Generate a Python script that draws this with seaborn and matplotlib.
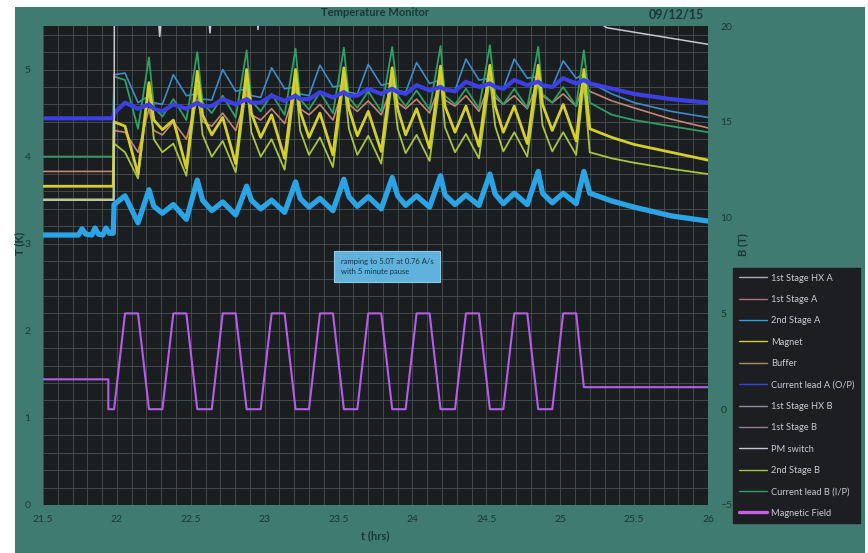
import matplotlib
matplotlib.use("Agg")
import matplotlib.pyplot as plt
from matplotlib.lines import Line2D
from matplotlib.patches import Rectangle
from matplotlib.ticker import MultipleLocator
import seaborn as sns

sns.set_theme(style="dark")
plt.rcParams["font.family"] = ["Lato", "DejaVu Sans"]

# ---- magnet ramp schedule (hours) ----
field_drop_t = 21.942
ramp_up_start = [21.981, 22.308, 22.642, 22.973, 23.300, 23.627, 23.954, 24.288, 24.615, 24.946]
top_start = [22.055, 22.382, 22.716, 23.047, 23.374, 23.701, 24.028, 24.362, 24.689, 25.020]
top_end = [22.143, 22.470, 22.804, 23.135, 23.462, 23.789, 24.116, 24.450, 24.777, 25.108]
low_start = [22.217, 22.544, 22.878, 23.209, 23.536, 23.863, 24.190, 24.524, 24.851, 25.160]
after_peak = [22.25, 22.58, 22.91, 23.24, 23.57, 23.90, 24.22, 24.56, 24.88]
post_times = [25.20, 25.35, 25.50, 25.75, 26.00]

# field levels (T)
b_hold_before = 1.56
b_low = 0.0
b_top = 5.0
b_hold_after = 1.15

# ---- temperatures (K) at the schedule points ----
# per cycle: ramp-up start, top start, top end, low start, after peak
current_lead_b = [4.00, 4.00,
                  4.92, 4.88, 4.32, 5.14, 4.57,
                  4.46, 4.66, 4.42, 5.20, 4.62,
                  4.50, 4.70, 4.45, 5.22, 4.64,
                  4.52, 4.72, 4.48, 5.24, 4.66,
                  4.54, 4.74, 4.50, 5.25, 4.68,
                  4.56, 4.75, 4.52, 5.26, 4.70,
                  4.58, 4.76, 4.54, 5.27, 4.70,
                  4.60, 4.78, 4.55, 5.28, 4.72,
                  4.60, 4.78, 4.56, 5.26, 4.72,
                  4.62, 4.80, 4.58, 5.22,
                  4.62, 4.48, 4.42, 4.35, 4.28]

magnet = [3.66, 3.66,
          4.40, 4.35, 3.80, 4.85, 4.42,
          4.31, 4.42, 3.87, 4.98, 4.48,
          4.25, 4.45, 3.92, 5.00, 4.50,
          4.22, 4.48, 3.98, 5.00, 4.52,
          4.22, 4.50, 4.02, 5.02, 4.55,
          4.24, 4.52, 4.06, 5.02, 4.55,
          4.25, 4.55, 4.10, 5.04, 4.58,
          4.28, 4.58, 4.12, 5.05, 4.58,
          4.28, 4.58, 4.15, 5.05, 4.60,
          4.30, 4.60, 4.18, 5.00,
          4.32, 4.22, 4.14, 4.05, 3.96]

second_stage_b = [3.51, 3.51,
                  4.15, 4.05, 3.75, 4.78, 4.20,
                  4.05, 4.15, 3.78, 4.82, 4.25,
                  4.00, 4.18, 3.82, 4.85, 4.28,
                  4.00, 4.20, 3.85, 4.86, 4.30,
                  4.02, 4.22, 3.88, 4.88, 4.32,
                  4.02, 4.24, 3.92, 4.88, 4.32,
                  4.04, 4.25, 3.95, 4.90, 4.34,
                  4.05, 4.26, 3.98, 4.90, 4.35,
                  4.06, 4.28, 4.00, 4.90, 4.36,
                  4.06, 4.28, 4.02, 4.85,
                  4.05, 3.98, 3.93, 3.86, 3.80]

first_stage_a = [3.83, 3.83,
                 4.30, 4.28, 4.05, 4.55, 4.30,
                 4.25, 4.40, 4.20, 4.65, 4.40,
                 4.35, 4.50, 4.30, 4.72, 4.48,
                 4.42, 4.55, 4.38, 4.78, 4.55,
                 4.48, 4.60, 4.42, 4.80, 4.60,
                 4.52, 4.64, 4.48, 4.82, 4.62,
                 4.55, 4.66, 4.50, 4.85, 4.65,
                 4.58, 4.70, 4.52, 4.85, 4.68,
                 4.60, 4.70, 4.55, 4.86, 4.70,
                 4.62, 4.72, 4.58, 4.85,
                 4.75, 4.64, 4.56, 4.43, 4.33]

current_lead_a = [4.44, 4.44,
                  4.50, 4.62, 4.55, 4.60, 4.55,
                  4.52, 4.60, 4.55, 4.62, 4.58,
                  4.58, 4.66, 4.60, 4.66, 4.62,
                  4.62, 4.70, 4.64, 4.70, 4.66,
                  4.66, 4.74, 4.68, 4.74, 4.70,
                  4.70, 4.78, 4.72, 4.78, 4.74,
                  4.72, 4.82, 4.76, 4.80, 4.77,
                  4.75, 4.86, 4.80, 4.84, 4.80,
                  4.78, 4.88, 4.82, 4.86, 4.82,
                  4.80, 4.90, 4.84, 4.88,
                  4.84, 4.78, 4.72, 4.66, 4.62]

first_stage_hx_a = [4.44, 4.44,
                    4.94, 4.96, 4.62, 4.70, 4.62,
                    4.60, 4.94, 4.70, 4.72, 4.66,
                    4.65, 5.00, 4.75, 4.78, 4.70,
                    4.68, 5.02, 4.78, 4.80, 4.72,
                    4.70, 5.05, 4.80, 4.82, 4.74,
                    4.72, 5.06, 4.82, 4.85, 4.76,
                    4.74, 5.08, 4.84, 4.88, 4.78,
                    4.76, 5.12, 4.88, 4.90, 4.80,
                    4.78, 5.12, 4.90, 4.92, 4.82,
                    4.80, 5.10, 4.90, 4.95,
                    4.85, 4.72, 4.62, 4.52, 4.45]

second_stage_a_pre_t = [21.5, 21.74, 21.764, 21.79, 21.83, 21.852, 21.875, 21.905, 21.926, 21.95]
second_stage_a_pre = [3.10, 3.10, 3.17, 3.11, 3.10, 3.18, 3.11, 3.10, 3.18, 3.12]
second_stage_a = [3.12, 3.12,
                  3.45, 3.55, 3.24, 3.62, 3.43,
                  3.35, 3.45, 3.28, 3.73, 3.50,
                  3.38, 3.48, 3.33, 3.66, 3.50,
                  3.40, 3.50, 3.36, 3.71, 3.52,
                  3.42, 3.52, 3.38, 3.74, 3.54,
                  3.43, 3.54, 3.40, 3.76, 3.55,
                  3.44, 3.55, 3.42, 3.78, 3.56,
                  3.45, 3.56, 3.44, 3.80, 3.57,
                  3.46, 3.58, 3.45, 3.83, 3.58,
                  3.47, 3.58, 3.46, 3.83,
                  3.58, 3.49, 3.42, 3.32, 3.26]

pm_switch_t = [21.5, 21.981, 21.983, 22.26, 22.29, 22.32, 22.60, 22.63, 22.66,
               22.93, 22.955, 22.98, 25.20, 25.316, 26.0]
pm_switch = [3.50, 3.50, 6.00, 6.00, 5.38, 6.00, 6.00, 5.42, 6.00,
             6.00, 5.46, 6.00, 5.60, 5.48, 5.29]

# ---- common time base for the sensor readings ----
t_key = [21.5, 21.975]
for k in range(10):
    t_key += [ramp_up_start[k], top_start[k], top_end[k], low_start[k]]
    if k < 9:
        t_key.append(after_peak[k])
t_key += post_times

# ---- field profile ----
field_t = [21.5, field_drop_t, field_drop_t]
field_b = [b_hold_before, b_hold_before, b_low]
for k in range(10):
    field_t += [ramp_up_start[k], top_start[k], top_end[k]]
    field_b += [b_low, b_top, b_top]
    if k < 9:
        field_t.append(low_start[k])
        field_b.append(b_low)
field_t += [low_start[9], 26.0]
field_b += [b_hold_after, b_hold_after]

# ---- styling ----
TEAL = "#3f7b70"
PLOT_BG = "#1b1e21"
GRID = "#4c5253"
TXT = "#1b3834"

fig = plt.figure(figsize=(8.68, 5.53), dpi=100, facecolor="white")
fig.patches.append(Rectangle((15 / 868, 0), 850 / 868, 546 / 553, transform=fig.transFigure,
                             facecolor=TEAL, edgecolor="none", zorder=-10))

ax = fig.add_axes([43 / 868, 48 / 553, 665 / 868, 479 / 553])
ax.set_facecolor(PLOT_BG)
ax2 = ax.twinx()

series = [
    ("1st Stage HX A", t_key, first_stage_hx_a, "#3d8ccc", 1.2),
    ("1st Stage A", t_key, first_stage_a, "#c48670", 1.2),
    ("2nd Stage B", t_key, second_stage_b, "#a9c441", 1.3),
    ("Current lead B (I/P)", t_key, current_lead_b, "#2f9f62", 1.3),
    ("Magnet", t_key, magnet, "#d5cf2a", 2.0),
    ("Current lead A (O/P)", t_key, current_lead_a, "#3b3fe4", 3.0),
    ("PM switch", pm_switch_t, pm_switch, "#c6c8d2", 1.1),
]
lines = {}
for name, tt, vv, col, lw in series:
    sns.lineplot(x=tt, y=vv, ax=ax, color=col, linewidth=lw, estimator=None, sort=False)
    lines[name] = ax.lines[-1]

sns.lineplot(x=second_stage_a_pre_t + t_key[1:], y=second_stage_a_pre + second_stage_a[1:],
             ax=ax, color="#2aa4e4", linewidth=3.8, estimator=None, sort=False)
lines["2nd Stage A"] = ax.lines[-1]

sns.lineplot(x=field_t, y=field_b, ax=ax2, color="#b55de8", linewidth=1.5,
             estimator=None, sort=False)

ax.set_xlim(21.5, 26)
ax.set_ylim(0, 5.5)
ax2.set_ylim(-5, 20)

ax.set_xticks([21.5, 22, 22.5, 23, 23.5, 24, 24.5, 25, 25.5, 26])
ax.set_xticklabels(["21.5", "22", "22.5", "23", "23.5", "24", "24.5", "25", "25.5", "26"])
ax.xaxis.set_minor_locator(MultipleLocator(0.1))
ax.yaxis.set_major_locator(MultipleLocator(1))
ax.yaxis.set_minor_locator(MultipleLocator(0.2))
ax2.yaxis.set_major_locator(MultipleLocator(5))

ax.grid(which="both", color=GRID, linewidth=0.6)
ax.set_axisbelow(True)
for a in (ax, ax2):
    for s in a.spines.values():
        s.set_visible(False)
    a.tick_params(which="both", length=0, labelsize=7.5, labelcolor=TXT)
ax.tick_params(axis="y", pad=9)
ax.tick_params(axis="x", pad=7)
ax2.tick_params(axis="y", pad=9)
ax2.grid(False)

ax.set_xlabel("t (hrs)", fontsize=8, fontweight="bold", color=TXT, labelpad=5)
fig.text(20 / 868, 1 - 243 / 553, "T (K)", rotation=90, ha="center", va="center",
         fontsize=8, fontweight="bold", color=TXT)
fig.text(743 / 868, 1 - 245 / 553, "B (T)", rotation=90, ha="center", va="center",
         fontsize=8, fontweight="bold", color=TXT)

fig.text(0.432, 0.978, "Temperature Monitor", ha="center", va="center",
         fontsize=8, fontweight="bold", color=TXT)
fig.text(0.779, 0.973, "09/12/15", ha="center", va="center",
         fontsize=9, fontweight="bold", color=TXT)

ax.text(0.448, 0.498, "ramping to 5.0T at 0.76 A/s\nwith 5 minute pause",
        transform=ax.transAxes, ha="left", va="center", fontsize=5.5, color="#1b2f4a",
        linespacing=1.5,
        bbox=dict(boxstyle="square,pad=0.9", facecolor="#5fb2dc", edgecolor="#8fcbe8", linewidth=0.8))

# legend
legend_order = [
    ("1st Stage HX A", "#a9aab8"),
    ("1st Stage A", "#b07080"),
    ("2nd Stage A", None),
    ("Magnet", None),
    ("Buffer", "#a89058"),
    ("Current lead A (O/P)", None),
    ("1st Stage HX B", "#8e8e9e"),
    ("1st Stage B", "#9a7e8e"),
    ("PM switch", None),
    ("2nd Stage B", None),
    ("Current lead B (I/P)", None),
    ("Magnetic Field", None),
]
handles, labels = [], []
for name, col in legend_order:
    if name == "Magnetic Field":
        h = Line2D([], [], color="#c85ee8", linewidth=2.4)
    elif col is not None:
        h = Line2D([], [], color=col, linewidth=1.0)
    else:
        h = Line2D([], [], color=lines[name].get_color(), linewidth=1.0)
    handles.append(h)
    labels.append(name)

leg = fig.legend(handles, labels, loc="upper left", bbox_to_anchor=(733 / 868, 1 - 268 / 553),
                 frameon=True, fontsize=6.7, labelspacing=1.33, handlelength=3.0,
                 handletextpad=0.45, borderpad=0.6, borderaxespad=0, fancybox=False)
leg.get_frame().set_facecolor("#1c1e22")
leg.get_frame().set_edgecolor("#1c1e22")
leg.get_frame().set_alpha(1)
for t in leg.get_texts():
    t.set_color("#c9ccd2")

fig.savefig("out.png", dpi=100, facecolor=fig.get_facecolor())
